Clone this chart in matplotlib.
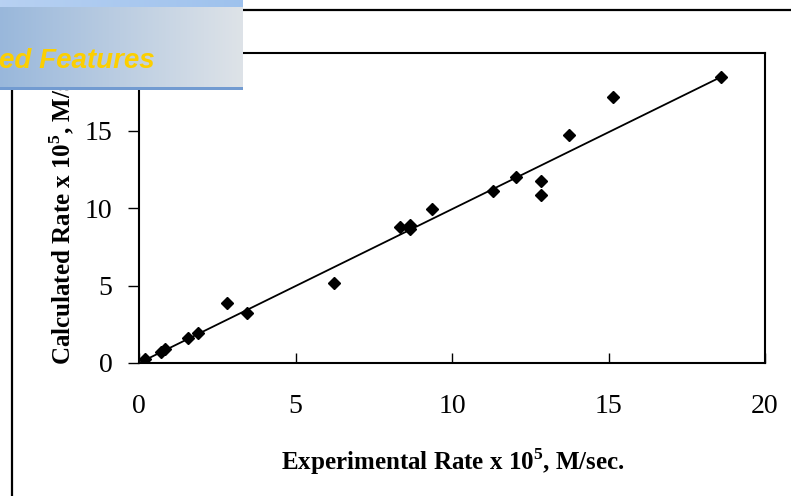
import matplotlib
matplotlib.use("Agg")
import matplotlib.pyplot as plt
import numpy as np
from matplotlib.lines import Line2D

plt.rcParams["font.family"] = ["Liberation Serif", "DejaVu Serif"]
plt.rcParams["mathtext.fontset"] = "custom"
plt.rcParams["mathtext.rm"] = "Liberation Serif"
plt.rcParams["mathtext.bf"] = "Liberation Serif:bold"

# experimental vs calculated rates (x 10^5, M/sec)
exp_rate = [0.19, 0.70, 0.84, 1.55, 1.87, 2.82, 3.46, 6.23, 8.33, 8.66, 8.66,
            9.36, 11.30, 12.05, 12.83, 12.83, 13.73, 15.13, 18.59]
calc_rate = [0.24, 0.73, 0.88, 1.64, 1.94, 3.86, 3.21, 5.15, 8.78, 8.93, 8.65,
             9.94, 11.08, 12.01, 11.75, 10.85, 14.73, 17.16, 18.45]
fit_x = [0.0, 18.59]
fit_y = [0.0, 18.45]
xticks = [0, 5, 10, 15, 20]
yticks = [0, 5, 10, 15]

W, H = 791, 496
fig = plt.figure(figsize=(W / 100, H / 100), dpi=100)

ax = fig.add_axes([139 / W, 1 - 363 / H, (765 - 139) / W, (363 - 53) / H])
ax.plot(fit_x, fit_y, color="black", lw=1.3, zorder=2)
ax.plot(exp_rate, calc_rate, ls="none", marker="D", ms=5.8, color="black", zorder=3)

ax.set_xlim(0, 20)
ax.set_ylim(0, 20)
ax.set_xticks(xticks)
ax.set_yticks(yticks)
ax.tick_params(axis="x", direction="in", length=7, width=1, pad=22, labelsize=20)
ax.tick_params(axis="y", direction="out", length=8, width=1, pad=11, labelsize=20)
for sp in ax.spines.values():
    sp.set_linewidth(1.5)

fig.text(453 / W, 1 - 462 / H, r"Experimental Rate x 10$^{\bf 5}$, M/sec.",
         ha="center", va="center", fontsize=18, fontweight="bold")
fig.text(62 / W, 1 - 208 / H, r"Calculated Rate x 10$^{\bf 5}$, M/sec.",
         ha="center", va="center", rotation=90, fontsize=18, fontweight="bold")

# outer chart frame
fig.add_artist(Line2D([12 / W, 12 / W, 1.0], [0, 1 - 10 / H, 1 - 10 / H],
                      transform=fig.transFigure, color="black", lw=1.6))

# slide title banner on top
bx = fig.add_axes([0, 1 - 90 / H, 243 / W, 90 / H])
bx.set_zorder(10)
bx.set_axis_off()
t = np.linspace(0, 1, 243)
left = np.array([0.60, 0.72, 0.86])
right = np.array([0.87, 0.89, 0.91])
grad = left[None, :] * (1 - t[:, None]) + right[None, :] * t[:, None]
img = np.repeat(grad[None, :, :], 90, axis=0)
strip_l = np.array([0.72, 0.82, 0.95])
strip_r = np.array([0.62, 0.76, 0.93])
strip = strip_l[None, :] * (1 - t[:, None]) + strip_r[None, :] * t[:, None]
img[:7] = strip[None, :, :]
img[87:90] = np.array([0.45, 0.61, 0.82])
bx.imshow(img, aspect="auto", extent=[0, 243, 90, 0], interpolation="bilinear")
bx.set_xlim(0, 243)
bx.set_ylim(90, 0)
bx.text(-1, 68, "ed Features", color="#fccf00", fontsize=20, fontweight="bold",
        fontstyle="italic", family=["Liberation Sans", "DejaVu Sans"], ha="left", va="baseline")

fig.savefig("out.png", dpi=100)
